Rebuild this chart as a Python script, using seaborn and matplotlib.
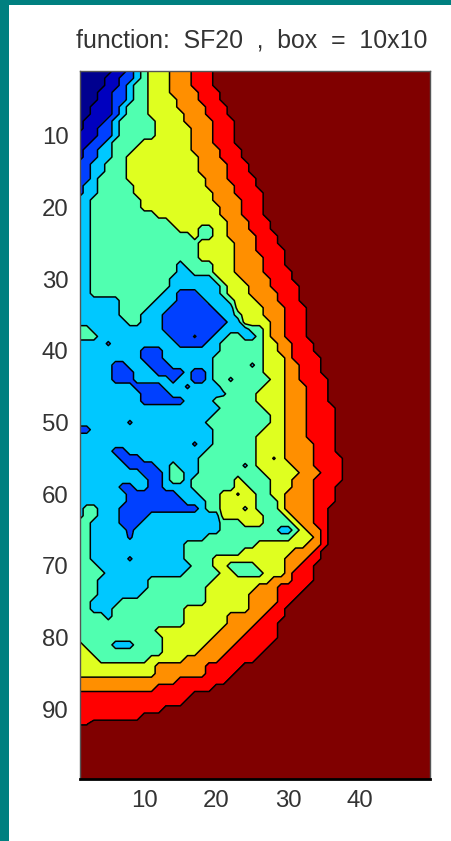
import numpy as np
import matplotlib
matplotlib.use('Agg')
import matplotlib.pyplot as plt
from matplotlib.patches import Rectangle
import seaborn as sns

# level bands of the contour plot, low to high
band_colors = ['#00008f', '#0000bf', '#0040ff', '#00c8ff', '#50ffb0', '#dfff20', '#ff8f00', '#ff0000', '#800000']
band_edges = [-0.5, 0.5, 1.5, 2.5, 3.5, 4.5, 5.5, 6.5, 7.5, 8.5]

x_ticks = [10, 20, 30, 40]
y_ticks = [10, 20, 30, 40, 50, 60, 70, 80, 90]
title_text = 'function:  SF20  ,  box  =  10x10'

# one row per y, "level:last column" runs, rest of the row is level 8
row_y = list(range(1, 94)) + [100]
row_runs = [
    '0:5 1:7 2:8 3:9 4:10 5:13 6:16 7:19',
    '0:4 1:6 2:8 3:9 4:10 5:13 6:16 7:19',
    '0:4 1:6 2:7 3:8 4:10 5:13 6:16 7:19',
    '0:3 1:5 2:7 3:8 4:10 5:13 6:17 7:20',
    '0:3 1:5 2:7 3:8 4:10 5:14 6:17 7:20',
    '0:2 1:5 2:6 3:7 4:10 5:14 6:18 7:21',
    '0:2 1:5 2:6 3:7 4:10 5:15 6:18 7:21',
    '0:1 1:4 2:5 3:6 4:11 5:15 6:19 7:22',
    '0:1 1:3 2:5 3:6 4:11 5:16 6:19 7:22',
    '1:3 2:5 3:6 4:11 5:16 6:19 7:22',
    '1:2 2:4 3:5 4:9 5:16 6:19 7:22',
    '1:1 2:3 3:5 4:8 5:16 6:20 7:23',
    '1:1 2:3 3:5 4:7 5:17 6:20 7:23',
    '2:2 3:4 4:7 5:17 6:21 7:24',
    '2:2 3:4 4:7 5:17 6:21 7:24',
    '2:2 3:3 4:7 5:18 6:21 7:25',
    '2:1 3:3 4:8 5:18 6:22 7:25',
    '2:1 3:3 4:8 5:19 6:22 7:26',
    '3:2 4:9 5:19 6:23 7:26',
    '3:2 4:9 5:20 6:23 7:26',
    '3:2 4:11 5:20 6:23 7:26',
    '3:2 4:13 5:21 6:24 7:27',
    '3:2 4:14 5:17 4:19 5:21 6:24 7:27',
    '3:2 4:16 5:17 4:19 5:21 6:25 7:28',
    '3:2 4:17 5:22 6:25 7:28',
    '3:2 4:17 5:22 6:25 7:29',
    '3:2 4:17 5:22 6:26 7:29',
    '3:2 4:14 3:15 4:19 5:22 6:26 7:29',
    '3:2 4:14 3:16 4:19 5:22 6:26 7:30',
    '3:2 4:13 3:19 4:20 5:23 6:27 7:30',
    '3:2 4:13 3:20 4:21 5:24 6:27 7:31',
    '3:2 4:12 3:14 2:17 3:20 4:21 5:24 6:28 7:31',
    '3:6 4:11 3:14 2:18 3:21 4:22 5:25 6:28 7:31',
    '3:6 4:10 3:13 2:19 3:22 5:26 6:29 7:32',
    '3:6 4:9 3:12 2:20 3:22 4:23 5:26 6:29 7:32',
    '3:7 4:9 3:12 2:21 3:23 5:27 6:29 7:32',
    '4:2 3:12 2:20 3:24 4:26 5:27 6:29 7:32',
    '4:3 3:13 2:16 2.6:17 2:19 3:21 4:23 3:25 4:26 5:27 6:29 7:32',
    '3:4 2.3:5 3:14 2:18 3:20 4:26 5:28 6:30 7:33',
    '3:9 2:12 3:20 4:26 5:28 6:30 7:33',
    '3:9 2:12 3:19 4:26 5:29 6:30 7:34',
    '3:5 2:7 3:10 2:13 3:19 4:24 3.3:25 4:26 5:29 6:31 7:34',
    '3:5 2:8 3:11 2:15 3:16 2:18 3:19 4:26 5:29 6:31 7:34',
    '3:5 2:8 3:13 2:14 3:16 2:18 3:19 4:21 3.3:22 4:27 5:29 6:31 7:35',
    '3:8 2:12 3:15 2.3:16 3:20 4:26 5:29 6:32 7:35',
    '3:9 2:13 3:20 3.3:21 4:25 5:29 6:32 7:35',
    '3:9 2:15 3:19 4:25 5:29 6:32 7:35',
    '3:20 4:26 5:29 6:32 7:36',
    '3:19 4:27 5:29 6:32 7:36',
    '3:7 2.3:8 3:18 4:27 5:29 6:32 7:36',
    '2:2 3:19 4:26 5:29 6:32 7:36',
    '3:19 4:25 5:29 6:32 7:36',
    '3:16 2.3:17 3:19 4:25 5:29 6:33 7:36',
    '3:5 2:7 3:18 4:25 5:29 6:33 7:36',
    '3:6 2:9 3:17 4:25 5:27 4.4:28 5:29 6:33 7:37',
    '3:7 2:11 3:13 4:14 3:17 4:23 3.3:24 4:25 5:30 6:33 7:37',
    '3:9 2:12 3:13 4:15 3:17 4:26 5:31 6:34 7:37',
    '3:10 2:12 3:13 4:15 3:16 4:22 5:23 4:27 5:30 6:33 7:37',
    '3:6 2:8 3:10 2:12 3:16 4:22 5:24 4:27 5:30 6:33 7:36',
    '3:7 2:14 3:17 4:20 5:22 4.4:23 5:25 4:27 5:29 6:33 7:36',
    '3:7 2:15 3:18 4:20 5:25 4:28 5:29 6:33 7:36',
    '3:1 4:3 3:6 2:17 3:18 4:20 5:23 4.3:24 5:25 4:28 5:29 6:33 7:35',
    '3:1 4:3 3:6 2:10 3:20 5:26 4:29 5:30 6:33 7:35',
    '4:2 3:6 2:9 3:20 4:23 5:26 4:30 5:31 6:33 7:35',
    '4:2 3:7 2:8 3:20 4:28 3:30 4:31 5:32 6:34 7:35',
    '4:2 3:7 2.3:8 3:18 4:30 5:33 6:34 7:35',
    '4:2 3:15 4:25 5:32 6:34 7:35',
    '4:2 3:15 4:23 5:30 6:33 7:34',
    '4:2 3:7 2.3:8 3:15 4:19 5:29 6:32 7:34',
    '4:3 3:16 4:19 5:21 4:25 5:29 6:31 7:33',
    '4:4 3:15 4:20 5:22 4:26 5:29 6:30 7:33',
    '4:3 3:10 4:19 5:27 6:30 7:33',
    '4:3 3:10 4:18 5:25 6:28 7:32',
    '4:3 3:9 4:18 5:24 6:28 7:31',
    '4:2 3:6 4:18 5:24 6:28 7:30',
    '4:2 3:5 4:15 5:24 6:27 7:29',
    '4:4 3:5 4:15 5:21 6:26 7:29',
    '4:15 5:21 6:25 7:28',
    '4:11 5:20 6:24 7:28',
    '4:12 5:19 6:23 7:28',
    '5:1 4:5 3:8 4:12 5:18 6:22 7:27',
    '5:2 4:12 5:17 6:21 7:26',
    '5:3 4:10 5:15 6:20 7:25',
    '5:11 6:18 7:23',
    '5:11 6:18 7:22',
    '6:14 7:21',
    '6:11 7:19',
    '7:16',
    '7:15',
    '7:12',
    '7:9',
    '7.4:2',
    '',
    '',
]
n_cols = 50


def expand_row(runs):
    row = np.full(n_cols, 8.0)
    start = 0
    for run in runs.split():
        level, end = run.split(':')
        row[start:int(end)] = float(level)
        start = int(end)
    return row


Z = np.array([expand_row(r) for r in row_runs])
xs = np.arange(1, n_cols + 1)

sns.set_style('white')
plt.rcParams['font.family'] = ['Liberation Sans', 'DejaVu Sans']

fig = plt.figure(figsize=(4.51, 8.41), dpi=100)
ax = fig.add_axes([79.5 / 451, 1 - 779 / 841, 350 / 451, 708 / 841])

ax.contourf(xs, row_y, Z, levels=band_edges, colors=sns.color_palette(band_colors))
ax.contour(xs, row_y, Z, levels=band_edges[1:-1], colors='black', linewidths=1.1)

ax.set_xlim(1, 49.6)
ax.set_ylim(99.7, 1)
ax.set_xticks(x_ticks)
ax.set_yticks(y_ticks)
ax.tick_params(length=0, labelsize=17.3, labelcolor='#333333', pad=8)
for side in ['top', 'left', 'right']:
    ax.spines[side].set_color('#555555')
    ax.spines[side].set_linewidth(1)
ax.spines['bottom'].set_color('black')
ax.spines['bottom'].set_linewidth(2)

# title sits a little left of the axes centre in the original
ax.set_title(title_text, fontsize=17.9, color='#333333', x=0.492, pad=17)

# teal window edge on the left and top
fig.add_artist(Rectangle((0, 0), 9 / 451, 1, transform=fig.transFigure, color='#008080', lw=0))
fig.add_artist(Rectangle((0, 1 - 5 / 841), 1, 5 / 841, transform=fig.transFigure, color='#008080', lw=0))

fig.savefig('out.png', dpi=100)
